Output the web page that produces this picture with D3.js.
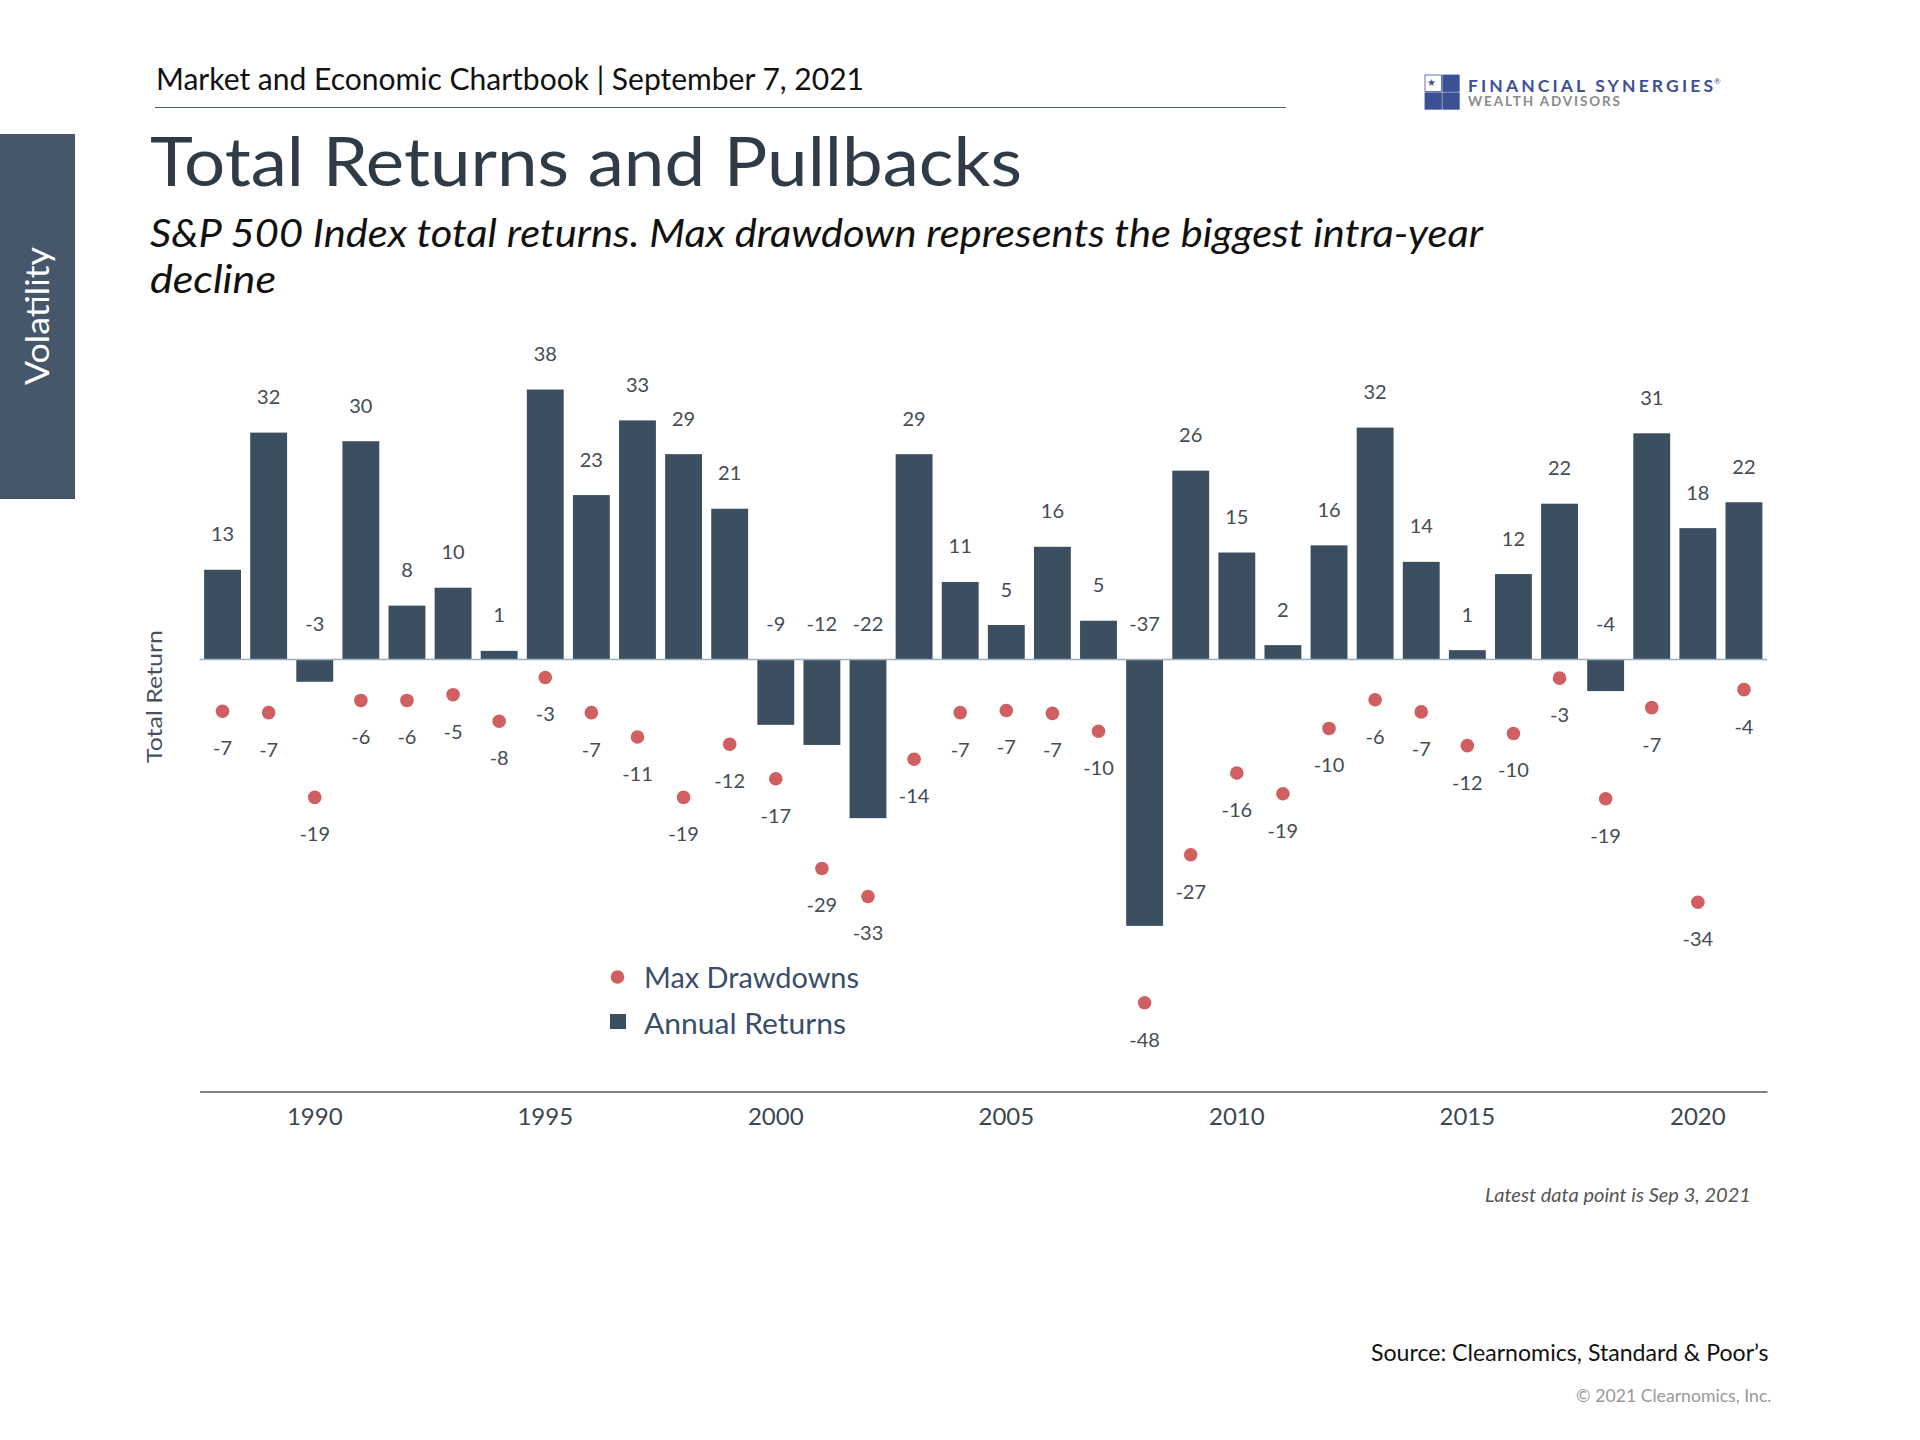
<!DOCTYPE html>
<html>
<head>
<meta charset="utf-8">
<title>Total Returns and Pullbacks</title>
<script src="https://cdn.jsdelivr.net/npm/d3@7"></script>
<style>
  body { margin: 0; background: #fff; }
  text { font-family: Lato, "Noto Sans", sans-serif; }
</style>
</head>
<body>
<div id="chart"></div>
<script>
const years = d3.range(1988, 2022);
const annualReturns = [12.5, 31.6, -3.1, 30.4, 7.5, 10, 1.2, 37.6, 22.9, 33.3, 28.6, 21,
  -9.1, -11.9, -22.1, 28.6, 10.8, 4.8, 15.7, 5.4, -37.1, 26.3, 14.9, 2, 15.9, 32.3,
  13.6, 1.3, 11.9, 21.7, -4.4, 31.5, 18.3, 21.9];
const annualLabels = [13, 32, -3, 30, 8, 10, 1, 38, 23, 33, 29, 21,
  -9, -12, -22, 29, 11, 5, 16, 5, -37, 26, 15, 2, 16, 32,
  14, 1, 12, 22, -4, 31, 18, 22];
const maxDrawdowns = [-7.2, -7.4, -19.2, -5.7, -5.7, -4.9, -8.6, -2.5, -7.4, -10.8, -19.2, -11.8,
  -16.6, -29.1, -33, -13.9, -7.4, -7.1, -7.5, -10, -47.8, -27.2, -15.8, -18.7, -9.6, -5.6,
  -7.3, -12, -10.3, -2.6, -19.4, -6.7, -33.8, -4.2];
const drawdownLabels = [-7, -7, -19, -6, -6, -5, -8, -3, -7, -11, -19, -12,
  -17, -29, -33, -14, -7, -7, -7, -10, -48, -27, -16, -19, -10, -6,
  -7, -12, -10, -3, -19, -7, -34, -4];
const tickYears = [1990, 1995, 2000, 2005, 2010, 2015, 2020];

const BarColour = "#3c4f60";
const DotColour = "#cf5f60";
const LegendText = "#3a4d6b";
const LogoBlue = "#3c5096";

const svg = d3.select("#chart").append("svg")
  .attr("width", 1920)
  .attr("height", 1440)
  .style("display", "block");

// text squeezed to the width measured on the reference
function addText(str, x, y, size, fill, width) {
  const t = svg.append("text")
    .attr("x", x)
    .attr("y", y)
    .attr("font-size", size)
    .attr("fill", fill)
    .text(str);
  if (width) t.attr("textLength", width).attr("lengthAdjust", "spacingAndGlyphs");
  return t;
}

// Scales
const x = d3.scaleBand()
  .domain(years)
  .range([199.5, 1767])
  .paddingInner(0.2)
  .paddingOuter(0.1);
const y = d3.scaleLinear()
  .domain([-60, 40])
  .range([659.5 + 60 * 7.18, 659.5 - 40 * 7.18]);
const xMid = (yr) => x(yr) + x.bandwidth() / 2;

// Side tab
svg.append("rect")
  .attr("x", 0).attr("y", 134)
  .attr("width", 75).attr("height", 365)
  .attr("fill", "#46566b");
addText("Volatility", 0, 0, 33, "#fff", 138)
  .attr("font-family", "DejaVu Sans")
  .attr("transform", "translate(49,385) rotate(-90)");

// Header
addText("Market and Economic Chartbook | September 7, 2021", 156, 89.5, 30, "#111", 708);
svg.append("line")
  .attr("x1", 155).attr("x2", 1286)
  .attr("y1", 107.5).attr("y2", 107.5)
  .attr("stroke", "#4f6170").attr("stroke-width", 1.2);
addText("Total Returns and Pullbacks", 150, 186, 68, "#2f3b47", 872);
addText("S&P 500 Index total returns. Max drawdown represents the biggest intra-year", 150, 247, 38, "#111", 1333)
  .attr("font-style", "italic");
addText("decline", 150, 293, 38, "#111", 126)
  .attr("font-style", "italic");

// Logo
const logoCells = [[0, 0], [1, 0], [0, 1], [1, 1]];
svg.append("g").selectAll("rect")
  .data(logoCells)
  .join("rect")
  .attr("x", (d) => 1425 + d[0] * 17.8)
  .attr("y", (d) => 75 + d[1] * 17.8)
  .attr("width", 16.4)
  .attr("height", 16.4)
  .attr("fill", (d) => (d[0] + d[1] === 0 ? "#fff" : LogoBlue))
  .attr("stroke", LogoBlue)
  .attr("stroke-width", 0.8);
addText("★", 1427, 86, 10, LogoBlue);
addText("FINANCIAL SYNERGIES", 1468, 91.7, 17.5, LogoBlue, 245)
  .attr("font-weight", 700)
  .attr("lengthAdjust", "spacing");
addText("®", 1714, 84, 8, LogoBlue);
addText("WEALTH ADVISORS", 1468, 106, 13.5, "#8a8a8a", 152)
  .attr("font-weight", 700)
  .attr("lengthAdjust", "spacing");

// Axis title
addText("Total Return", 0, 0, 22, "#47525e", 133)
  .attr("font-family", "DejaVu Sans")
  .attr("transform", "translate(161.5,763) rotate(-90)");

// Bars
svg.append("g").selectAll("rect")
  .data(years)
  .join("rect")
  .attr("x", (d) => x(d))
  .attr("y", (d, i) => y(Math.max(annualReturns[i], 0)))
  .attr("width", x.bandwidth())
  .attr("height", (d, i) => Math.abs(y(annualReturns[i]) - y(0)))
  .attr("fill", BarColour);

// Zero line
svg.append("line")
  .attr("x1", 199.5).attr("x2", 1767)
  .attr("y1", y(0)).attr("y2", y(0))
  .attr("stroke", "#9fb0bd").attr("stroke-width", 1.5);

// Bar labels
svg.append("g").selectAll("text")
  .data(years)
  .join("text")
  .attr("x", (d) => xMid(d))
  .attr("y", (d, i) => y(Math.max(annualReturns[i], 0)) - 28.5)
  .attr("text-anchor", "middle")
  .attr("font-size", 20)
  .attr("fill", "#444c54")
  .text((d, i) => annualLabels[i]);

// Drawdown dots
svg.append("g").selectAll("circle")
  .data(years)
  .join("circle")
  .attr("cx", (d) => xMid(d))
  .attr("cy", (d, i) => y(maxDrawdowns[i]))
  .attr("r", 6.8)
  .attr("fill", DotColour);

svg.append("g").selectAll("text")
  .data(years)
  .join("text")
  .attr("x", (d) => xMid(d))
  .attr("y", (d, i) => y(maxDrawdowns[i]) + 44)
  .attr("text-anchor", "middle")
  .attr("font-size", 20)
  .attr("fill", "#444c54")
  .text((d, i) => drawdownLabels[i]);

// Bottom axis
const xAxis = svg.append("g")
  .attr("transform", "translate(0,1091.5)")
  .call(d3.axisBottom(x).tickValues(tickYears).tickSize(0).tickPadding(16));
xAxis.select(".domain").attr("stroke", "#555d66").attr("stroke-width", 1.5);
xAxis.selectAll("text")
  .attr("font-size", 24)
  .attr("font-family", "Lato, sans-serif")
  .attr("fill", "#3a4650");

// Legend
svg.append("circle")
  .attr("cx", 617.5).attr("cy", 977)
  .attr("r", 6.8)
  .attr("fill", DotColour);
addText("Max Drawdowns", 644, 987.5, 28, LegendText, 215);
svg.append("rect")
  .attr("x", 610).attr("y", 1014)
  .attr("width", 16).attr("height", 15)
  .attr("fill", BarColour);
addText("Annual Returns", 644, 1033.5, 28, LegendText, 202);

// Notes
addText("Latest data point is Sep 3, 2021", 1485, 1202, 20, "#555", 266).attr("font-style", "italic");
addText("Source: Clearnomics, Standard & Poor’s", 1371, 1361, 24, "#111", 397.5);
addText("© 2021 Clearnomics, Inc.", 1576, 1402, 18, "#999", 195.5);
</script>
</body>
</html>
